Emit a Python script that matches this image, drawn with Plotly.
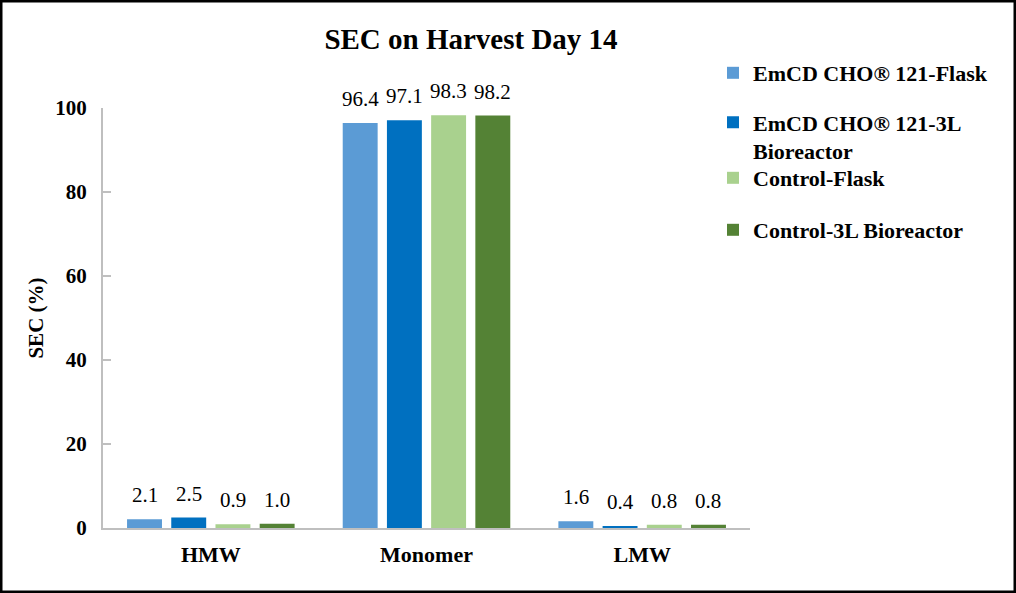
import plotly.graph_objects as go

categories = ["HMW", "Monomer", "LMW"]
series_names = ["EmCD CHO® 121-Flask", "EmCD CHO® 121-3L<br>Bioreactor", "Control-Flask", "Control-3L Bioreactor"]
emcd_flask = [2.1, 96.4, 1.6]
emcd_3l = [2.5, 97.1, 0.4]
control_flask = [0.9, 98.3, 0.8]
control_3l = [1.0, 98.2, 0.8]
colors = ["#5B9BD5", "#0070C0", "#A9D18E", "#548235"]
y_ticks = [0, 20, 40, 60, 80, 100]

series = [emcd_flask, emcd_3l, control_flask, control_3l]

W, H = 1016, 593
ml, mr, mt, mb = 103, 266, 108, 65
pw, ph = W - ml - mr, H - mt - mb

FONT = "Liberation Serif"
legend_ids = ["legend", "legend2", "legend3", "legend4"]
legend_px = [73, 137, 178, 230]  # vertical centres of legend entries (pixels from top)

fig = go.Figure()
for name, vals, c, lg in zip(series_names, series, colors, legend_ids):
    fig.add_trace(go.Bar(
        x=categories, y=vals, name=name, marker=dict(color=c, line=dict(width=0)),
        legend=lg,
    ))

bargap, groupgap = 0.18, 0.21
slot = pw / len(categories) * (1 - bargap) / len(series)
for i, vals in enumerate(series):
    for cat, v in zip(categories, vals):
        fig.add_annotation(
            x=cat, y=v, xref="x", yref="y", text=f"{v:.1f}", showarrow=False,
            xshift=(i - (len(series) - 1) / 2) * slot, yshift=10, yanchor="bottom",
            font=dict(family=FONT, size=21, color="#000000"),
        )

legend_common = dict(xanchor="left", yanchor="middle", valign="top",
                     font=dict(family=FONT, size=22, color="#000000", weight="bold"),
                     bgcolor="rgba(0,0,0,0)", itemclick=False, itemdoubleclick=False)
legends = {}
for lg, ypx in zip(legend_ids, legend_px):
    legends[lg] = dict(x=(713 - ml) / pw, y=(H - mb - ypx) / ph, **legend_common)

fig.update_layout(
    width=W, height=H,
    margin=dict(l=ml, r=mr, t=mt, b=mb),
    paper_bgcolor="white", plot_bgcolor="white",
    barmode="group", bargap=bargap, bargroupgap=groupgap,
    title=dict(text="<b>SEC on Harvest Day 14</b>", x=(471 - ml) / pw, xref="paper", xanchor="center",
               y=1 - 39 / H, yref="container", yanchor="middle",
               font=dict(family=FONT, size=29, color="#000000")),
    showlegend=True,
    font=dict(family=FONT, color="#000000"),
    **legends,
)
fig.update_xaxes(showline=True, linecolor="#BFBFBF", linewidth=2, ticks="", showgrid=False,
                 tickfont=dict(family=FONT, size=22, color="#000000", weight="bold"),
                 ticklabelstandoff=6)
fig.update_yaxes(range=[0, 100], tickvals=y_ticks, showline=True, linecolor="#BFBFBF", linewidth=2,
                 ticks="inside", ticklen=8, tickwidth=2, tickcolor="#BFBFBF", showgrid=False,
                 zeroline=False,
                 tickfont=dict(family=FONT, size=21, color="#000000", weight="bold"),
                 ticklabelstandoff=10,
                 title=dict(text="<b>SEC (%)</b>", font=dict(family=FONT, size=21, color="#000000"), standoff=6))

fig.add_shape(type="rect", xref="paper", yref="paper",
              x0=-ml / pw, x1=1 + mr / pw, y0=-mb / ph, y1=1 + mt / ph,
              line=dict(color="#000000", width=5), fillcolor="rgba(0,0,0,0)", layer="above")

fig.write_html("out.html", config={"displayModeBar": False},
               post_script="document.body.style.margin='0px';document.body.style.overflow='hidden';")
